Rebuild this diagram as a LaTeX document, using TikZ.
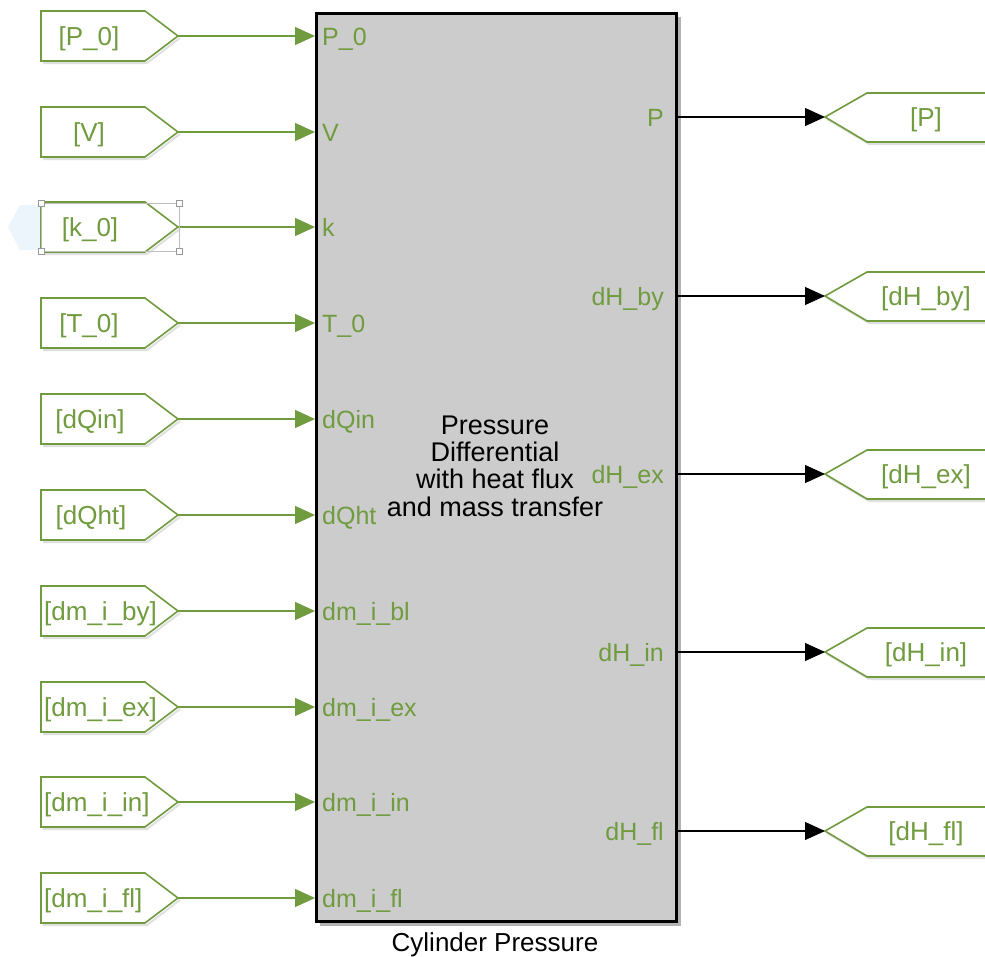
\documentclass[tikz,border=0pt]{standalone}
\usepackage{fontspec}
\setmainfont{Liberation Sans}
\usetikzlibrary{arrows.meta}
\definecolor{sgreen}{RGB}{112,155,62}
\definecolor{blockgray}{RGB}{204,204,204}
\definecolor{selblue}{RGB}{236,244,252}
\begin{document}
\begin{tikzpicture}[x=1pt,y=-1pt,
  tagtext/.style={text=sgreen,font=\fontsize{26}{26}\selectfont,inner sep=0pt,text height=19pt,text depth=0pt},
  porttext/.style={text=sgreen,font=\fontsize{25}{25}\selectfont,inner sep=0pt,text height=18pt,text depth=0pt},
  tagline/.style={draw=sgreen,line width=1.6pt,line join=miter},
  tagshadow/.style={draw=black!12,line width=2pt},
  garrow/.style={draw=sgreen,line width=1.4pt,-{Triangle[length=20pt,width=18pt]},sgreen},
  karrow/.style={draw=black,line width=1.1pt,-{Triangle[length=20pt,width=18pt]}},
  handle/.style={draw=black!40,fill=white,line width=0.8pt,minimum size=6pt,inner sep=0pt}
]
\useasboundingbox (0,0) rectangle (985,956);
\clip (0,0) rectangle (985,956);

% block with shadow
\fill[black!30] (320,17) rectangle (681,926);
\node[draw=black,line width=3pt,fill=blockgray,minimum width=360pt,minimum height=908pt,inner sep=0pt,anchor=north west] (blk) at (315,12) {};
\node[align=center,font=\fontsize{27}{27.3}\selectfont] (title) at (495,466) {Pressure\\Differential\\with heat flux\\and mass transfer};
\node[font=\fontsize{26}{27}\selectfont,inner sep=0pt,text height=19pt,text depth=6pt] (name) at (495,945) {Cylinder Pressure};

% selection highlight of k_0
\fill[selblue] (41,205) -- (41,250) -- (20,250) -- (8,227) -- (20,205) -- cycle;

% left input tags (short names centred, long names start at the left)
\foreach \i/\y/\tag/\port/\anc/\tx in {1/36/{[P\_0]}/{P\_0}/center/89,2/132/{[V]}/{V}/center/89,3/227/{[k\_0]}/{k}/center/90,4/323/{[T\_0]}/{T\_0}/center/89,5/419/{[dQin]}/{dQin}/center/90,6/515/{[dQht]}/{dQht}/center/91,7/611/{[dm\_i\_by]}/{dm\_i\_bl}/west/44,8/707/{[dm\_i\_ex]}/{dm\_i\_ex}/west/44,9/802/{[dm\_i\_in]}/{dm\_i\_in}/west/44,10/898/{[dm\_i\_fl]}/{dm\_i\_fl}/west/44}{
  \draw[tagshadow] (43,\y+27) -- (147,\y+27) -- (180,\y+2);
  \draw[tagline,fill=white] (41,\y-25) -- (145,\y-25) -- (178,\y) -- (145,\y+25) -- (41,\y+25) -- cycle;
  \coordinate (tip\i) at (178,\y);
  \node[tagtext,anchor=\anc] (tag\i) at (\tx,\y) {\tag};
  \node[porttext,anchor=west] (in\i) at (322,\y) {\port};
  \draw[garrow] (tip\i) -- (blk.west |- tip\i);
}

% selection box and handles on k_0
\draw[black!25,line width=0.6pt] (41,203) rectangle (179,251);
\node[handle] (h1) at (41,203) {};
\node[handle] (h2) at (179,203) {};
\node[handle] (h3) at (41,251) {};
\node[handle] (h4) at (179,251) {};

% right output tags
\foreach \j/\y/\tag/\port in {1/117/{[P]}/{P},2/296/{[dH\_by]}/{dH\_by},3/474/{[dH\_ex]}/{dH\_ex},4/652/{[dH\_in]}/{dH\_in},5/831/{[dH\_fl]}/{dH\_fl}}{
  \draw[tagshadow] (827,\y+2) -- (869,\y+27) -- (995,\y+27);
  \draw[tagline,fill=white] (995,\y-24) -- (867,\y-24) -- (825,\y) -- (867,\y+25) -- (995,\y+25);
  \coordinate (otip\j) at (825,\y);
  \node[tagtext] (otag\j) at (926,\y) {\tag};
  \node[porttext,anchor=east] (out\j) at (664,\y) {\port};
  \draw[karrow] (blk.east |- otip\j) -- (otip\j);
}
\end{tikzpicture}
\end{document}
